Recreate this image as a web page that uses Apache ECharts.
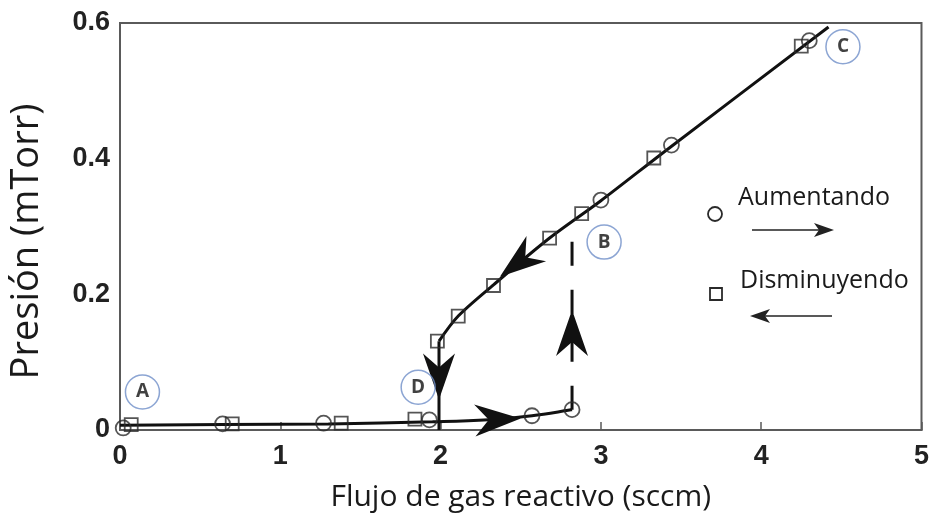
<!DOCTYPE html>
<html>
<head>
<meta charset="utf-8">
<script src="https://cdn.jsdelivr.net/npm/echarts@6/dist/echarts.min.js"></script>
<style>
  html, body { margin: 0; padding: 0; background: #fff; }
  #chart { width: 932px; height: 524px; }
</style>
</head>
<body>
<div id="chart"></div>
<script>
// measured points (x = sccm, y = mTorr)
const aumentando = [
    [0.02, 0.003], [0.64, 0.009], [1.27, 0.010], [1.93, 0.015],
    [2.57, 0.021], [2.82, 0.030], [3.00, 0.339], [3.44, 0.420], [4.30, 0.574]
];
const disminuyendo = [
    [0.07, 0.008], [0.70, 0.009], [1.38, 0.010], [1.84, 0.016],
    [1.98, 0.131], [2.11, 0.168], [2.33, 0.213], [2.68, 0.283],
    [2.88, 0.319], [3.33, 0.401], [4.25, 0.566]
];

// guide curves
const lowerBranch = [[0, 0.007], [0.65, 0.008], [1.3, 0.009], [1.95, 0.012], [2.3, 0.015], [2.57, 0.021], [2.82, 0.030]];
const dropLine = [[1.99, 0], [1.99, 0.131]];
const upperBranch = [[1.99, 0.131], [2.11, 0.168], [2.33, 0.214], [2.68, 0.283], [3.0, 0.338], [3.4, 0.411], [4.42, 0.594]];
const jumpLine = [[2.82, 0.030], [2.82, 0.307]];

// arrowheads: [tipX, tipY, fromX, fromY]
const arrowHeads = [
    [2.50, 0.017, 2.20, 0.014],
    [2.37, 0.226, 2.60, 0.268],
    [1.99, 0.045, 1.99, 0.13],
    [2.82, 0.177, 2.82, 0.10]
];

// circled state labels
const stateLabels = [[0.14, 0.056, 'A'], [3.02, 0.277, 'B'], [4.51, 0.565, 'C'], [1.86, 0.063, 'D']];

const legendNames = ['Aumentando', 'Disminuyendo'];

const chart = echarts.init(document.getElementById('chart'));

function lineSeries(data, extra) {
    return Object.assign({
        type: 'line',
        data: data,
        showSymbol: false,
        symbol: 'none',
        silent: true,
        z: 2,
        lineStyle: { color: '#111', width: 3 }
    }, extra || {});
}

function renderArrow(params, api) {
    const tip = api.coord([api.value(0), api.value(1)]);
    const from = api.coord([api.value(2), api.value(3)]);
    let dx = tip[0] - from[0], dy = tip[1] - from[1];
    const len = Math.sqrt(dx * dx + dy * dy);
    dx /= len; dy /= len;
    const px = -dy, py = dx;
    const L = 46, W = 16, N = 14;
    const bx = tip[0] - dx * L, by = tip[1] - dy * L;
    return {
        type: 'polygon',
        shape: {
            points: [
                tip,
                [bx + px * W, by + py * W],
                [tip[0] - dx * (L - N), tip[1] - dy * (L - N)],
                [bx - px * W, by - py * W]
            ]
        },
        style: { fill: '#111' }
    };
}

const option = {
    animation: false,
    grid: {
        left: 117, right: 5, top: 23, bottom: 94,
        show: true, borderColor: '#5a5a5a', borderWidth: 2
    },
    xAxis: {
        type: 'value', min: 0, max: 5, interval: 1,
        name: 'Flujo de gas reactivo (sccm)',
        nameLocation: 'middle', nameGap: 52,
        nameTextStyle: { fontFamily: 'Open Sans', fontSize: 30, color: '#1a1a1a' },
        axisLine: { show: true, lineStyle: { color: '#5a5a5a', width: 2 } },
        axisTick: { show: true, inside: true, length: 8, lineStyle: { color: '#5a5a5a', width: 1.5 } },
        axisLabel: { margin: 13, fontFamily: 'Liberation Sans', fontWeight: 'bold', fontSize: 27, color: '#222' },
        splitLine: { show: false }
    },
    yAxis: {
        type: 'value', min: 0, max: 0.6, interval: 0.2,
        name: 'Presión (mTorr)',
        nameLocation: 'middle', nameGap: 74, nameRotate: 90,
        nameTextStyle: { fontFamily: 'Open Sans', fontSize: 38, color: '#1a1a1a', padding: [0, 30, 0, 0] },
        axisLine: { show: true, lineStyle: { color: '#5a5a5a', width: 2 } },
        axisTick: { show: false },
        axisLabel: { margin: 10, fontFamily: 'Liberation Sans', fontWeight: 'bold', fontSize: 27, color: '#222' },
        splitLine: { show: false }
    },
    series: [
        lineSeries(lowerBranch, { smooth: 0.4 }),
        lineSeries(dropLine),
        lineSeries(upperBranch, { smooth: 0.3 }),
        lineSeries(jumpLine, { lineStyle: { color: '#111', width: 3, type: [24, 24] } }),
        {
            type: 'custom',
            silent: true,
            z: 3,
            renderItem: renderArrow,
            data: arrowHeads
        },
        {
            name: legendNames[0],
            type: 'scatter',
            data: aumentando,
            symbol: 'circle',
            symbolSize: 15,
            z: 4,
            itemStyle: { color: 'rgba(255,255,255,0)', borderColor: '#2a2a2a', borderWidth: 1.8 }
        },
        {
            name: legendNames[1],
            type: 'scatter',
            data: disminuyendo,
            symbol: 'rect',
            symbolSize: 13,
            z: 4,
            itemStyle: { color: 'rgba(255,255,255,0)', borderColor: '#2a2a2a', borderWidth: 1.8 }
        },
        {
            type: 'scatter',
            data: stateLabels,
            symbol: 'circle',
            symbolSize: 34,
            silent: true,
            z: 5,
            itemStyle: { color: 'rgba(255,255,255,0)', borderColor: '#6f8fc8', borderWidth: 1.5 },
            label: {
                show: true, position: 'inside',
                formatter: p => p.value[2],
                fontFamily: 'Open Sans', fontWeight: 'bold', fontSize: 19, color: '#111'
            }
        }
    ],
    graphic: [
        { type: 'circle', shape: { cx: 715, cy: 214, r: 7 }, style: { fill: 'none', stroke: '#2a2a2a', lineWidth: 1.8 } },
        { type: 'text', left: 738, top: 185, style: { text: legendNames[0], font: '25px "Open Sans"', fill: '#1a1a1a' } },
        { type: 'line', shape: { x1: 752, y1: 230, x2: 826, y2: 230 }, style: { stroke: '#222', lineWidth: 1.5 } },
        { type: 'polygon', shape: { points: [[834, 230], [814, 223], [819, 230], [814, 237]] }, style: { fill: '#222' } },
        { type: 'rect', shape: { x: 710, y: 288, width: 12, height: 12 }, style: { fill: 'none', stroke: '#2a2a2a', lineWidth: 1.8 } },
        { type: 'text', left: 740, top: 268, style: { text: legendNames[1], font: '25px "Open Sans"', fill: '#1a1a1a' } },
        { type: 'line', shape: { x1: 758, y1: 316, x2: 832, y2: 316 }, style: { stroke: '#222', lineWidth: 1.5 } },
        { type: 'polygon', shape: { points: [[750, 316], [770, 309], [765, 316], [770, 323]] }, style: { fill: '#222' } }
    ]
};

chart.setOption(option);

window.addEventListener('resize', () => {
    chart.resize();
});
</script>
</body>
</html>
